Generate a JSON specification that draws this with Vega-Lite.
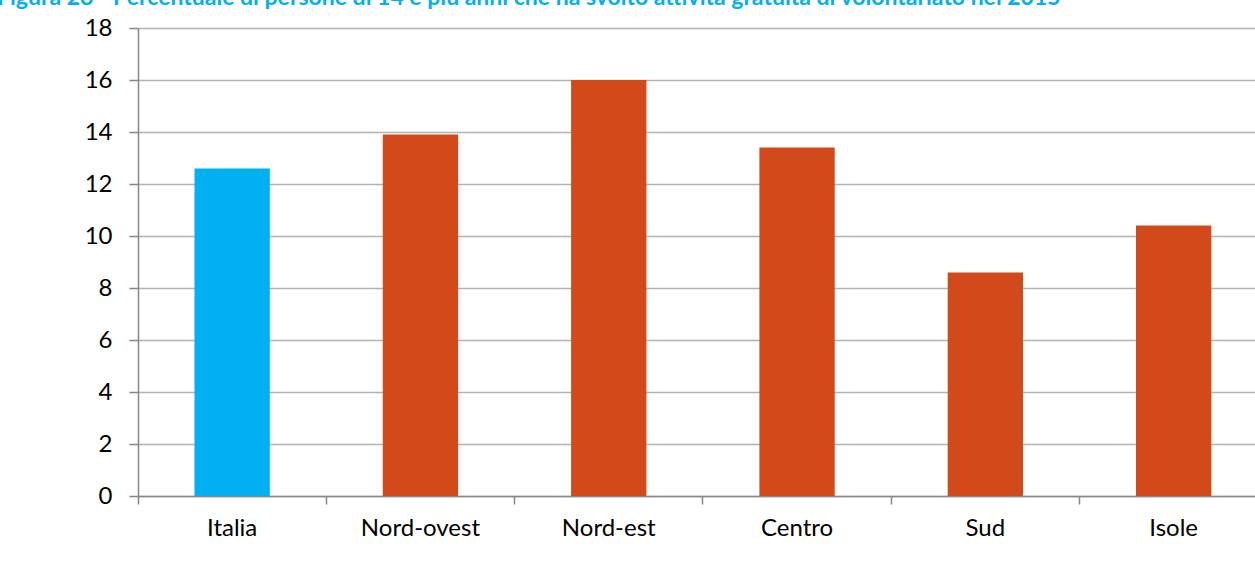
{
  "$schema": "https://vega.github.io/schema/vega-lite/v6.json",
  "autosize": {"type": "none"},
  "padding": {"left": 138, "top": 28, "right": 0, "bottom": 71},
  "width": 1117,
  "height": 468,
  "background": "white",
  "title": {
    "text": "Figura 28 - Percentuale di persone di 14 e più anni che ha svolto attività gratuita di volontariato nel 2015",
    "anchor": "start",
    "frame": "group",
    "dx": -141,
    "offset": 6,
    "font": "Lato",
    "fontSize": 23,
    "fontWeight": "bold",
    "color": "#00B0F0"
  },
  "data": {
    "values": [
      {"area": "Italia", "tipo": "Italia", "valore": 12.6},
      {"area": "Nord-ovest", "tipo": "Ripartizione", "valore": 13.9},
      {"area": "Nord-est", "tipo": "Ripartizione", "valore": 16.0},
      {"area": "Centro", "tipo": "Ripartizione", "valore": 13.4},
      {"area": "Sud", "tipo": "Ripartizione", "valore": 8.6},
      {"area": "Isole", "tipo": "Ripartizione", "valore": 10.4}
    ]
  },
  "mark": {"type": "bar"},
  "encoding": {
    "x": {
      "field": "area",
      "type": "nominal",
      "sort": null,
      "scale": {"paddingInner": 0.6, "paddingOuter": 0.266, "align": 0.564, "round": false},
      "axis": {
        "title": null,
        "labelAngle": 0,
        "labelFont": "Lato",
        "labelFontSize": 24,
        "labelColor": "#000000",
        "labelPadding": 12,
        "tickSize": 8,
        "tickColor": "#868686",
        "tickWidth": 1.5,
        "domainColor": "#868686",
        "domainWidth": 1.5,
        "bandPosition": -0.75,
        "grid": false
      }
    },
    "y": {
      "field": "valore",
      "type": "quantitative",
      "scale": {"domain": [0, 18], "nice": false},
      "axis": {
        "title": null,
        "values": [0, 2, 4, 6, 8, 10, 12, 14, 16, 18],
        "labelFont": "Lato",
        "labelFontSize": 24,
        "labelColor": "#000000",
        "labelPadding": 17,
        "tickSize": 9,
        "tickColor": "#868686",
        "tickWidth": 1.5,
        "domainColor": "#868686",
        "domainWidth": 1.5,
        "grid": true,
        "gridColor": "#B3B3B3",
        "gridWidth": 1.5
      }
    },
    "color": {
      "field": "tipo",
      "type": "nominal",
      "scale": {"domain": ["Italia", "Ripartizione"], "range": ["#00B0F0", "#D24A19"]},
      "legend": null
    }
  },
  "config": {
    "view": {"stroke": null}
  }
}
